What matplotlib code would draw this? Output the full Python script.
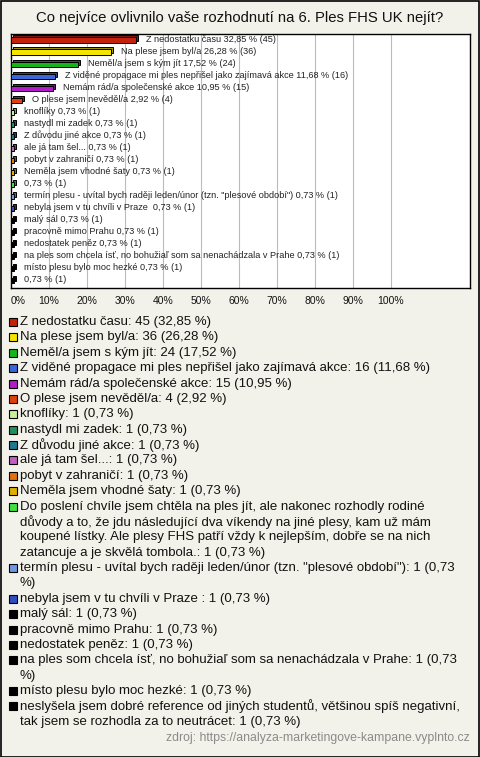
import matplotlib
matplotlib.use("Agg")
import matplotlib.pyplot as plt
from matplotlib.patches import Rectangle
import numpy as np

plt.rcParams['font.family'] = ['Liberation Sans', 'DejaVu Sans']

# Data
title = "Co nejvíce ovlivnilo vaše rozhodnutí na 6. Ples FHS UK nejít?"
answers = [
    "Z nedostatku času",
    "Na plese jsem byl/a",
    "Neměl/a jsem s kým jít",
    "Z viděné propagace mi ples nepřišel jako zajímavá akce",
    "Nemám rád/a společenské akce",
    "O plese jsem nevěděl/a",
    "knoflíky",
    "nastydl mi zadek",
    "Z důvodu jiné akce",
    "ale já tam šel...",
    "pobyt v zahraničí",
    "Neměla jsem vhodné šaty",
    "Do poslení chvíle jsem chtěla na ples jít, ale nakonec rozhodly rodiné důvody a to, že jdu "
    "následující dva víkendy na jiné plesy, kam už mám koupené lístky. Ale plesy FHS patří vždy "
    "k nejlepším, dobře se na nich zatancuje a je skvělá tombola.",
    "termín plesu - uvítal bych raději leden/únor (tzn. \"plesové období\")",
    "nebyla jsem v tu chvíli v Praze ",
    "malý sál",
    "pracovně mimo Prahu",
    "nedostatek peněz",
    "na ples som chcela ísť, no bohužiaľ som sa nenachádzala v Prahe",
    "místo plesu bylo moc hezké",
    "neslyšela jsem dobré reference od jiných studentů, většinou spíš negativní, "
    "tak jsem se rozhodla za to neutrácet",
]
counts = [45, 36, 24, 16, 15, 4, 1, 1, 1, 1, 1, 1, 1, 1, 1, 1, 1, 1, 1, 1, 1]
percents = [32.85, 26.28, 17.52, 11.68, 10.95, 2.92, 0.73, 0.73, 0.73, 0.73, 0.73,
            0.73, 0.73, 0.73, 0.73, 0.73, 0.73, 0.73, 0.73, 0.73, 0.73]
colors = ['#C4200E', '#F5E400', '#14B41A', '#3A66DA', '#B01CC8', '#E0400E',
          '#C8F098', '#1E9060', '#1E7890', '#C060C0', '#E07010', '#E0B000',
          '#40E040', '#7098E0', '#2E4EC0', '#000000', '#000000', '#000000',
          '#000000', '#000000', '#000000']
source = "zdroj: https://analyza-marketingove-kampane.vyplnto.cz"

W, H = 480, 757
bg = '#F3F2EA'

def fmt(v):
    return f"{v:.2f}".replace('.', ',')

fig = plt.figure(figsize=(W / 100, H / 100), dpi=100, facecolor=bg)

# plot area in pixels
x0, x1, y0, y1 = 11, 470, 34, 288
ax = fig.add_axes([x0 / W, 1 - y1 / H, (x1 - x0) / W, (y1 - y0) / H])
ax.set_facecolor('white')
ax.set_xlim(0, (x1 - x0) / 3.8)
ax.set_ylim(len(answers) - 0.35, -0.5)

ax.set_xticks(np.arange(0, 101, 10))
ax.set_xticklabels([f"{t}%" for t in range(0, 101, 10)], fontsize=7.5, color='#111')
ax.get_xticklabels()[0].set_ha('left')
ax.tick_params(axis='x', length=0, pad=6)
ax.set_yticks([])
ax.grid(axis='x', color='#BBBBBB', lw=0.8)
ax.set_axisbelow(True)
for s in ax.spines.values():
    s.set_color('black')
    s.set_linewidth(1.0)

y = np.arange(len(answers))
dx = 2 / 3.8
dy = 2 / 12.0
bh = 0.42

def darker(c, f=0.65):
    r, g, b = matplotlib.colors.to_rgb(c)
    return (r * f, g * f, b * f)

# 3d-ish bars: shifted back face, then front face
ax.barh(y - dy, percents, left=dx, height=bh, color=[darker(c) for c in colors],
        edgecolor='black', linewidth=0.7, zorder=2)
ax.barh(y, percents, height=bh, color=colors, edgecolor='black', linewidth=0.7, zorder=3)

for i, (a, p, c) in enumerate(zip(answers, percents, counts)):
    lab = a if len(a) < 100 else ""
    txt = f"{lab} {fmt(p)} % ({c})".strip()
    ax.text(p + 10 / 3.8, i - 0.05, txt, fontsize=6.6, color='#222',
            va='center', ha='left', zorder=4)

fig.text(0.5, 1 - 18 / H, title, ha='center', va='center', fontsize=10.7, color='#111')

# legend below, wrapped by measured width
fig.canvas.draw()
renderer = fig.canvas.get_renderer()
lfs = 9.5
def width_px(s):
    t = fig.text(0, 0, s, fontsize=lfs)
    w = t.get_window_extent(renderer).width
    t.remove()
    return w

max_w = 446
lines_y = 322
step = 15.38
for a, p, c, col in zip(answers, percents, counts, colors):
    full = f"{a}: {c} ({fmt(p)} %)"
    words = full.split(' ')
    lines = []
    cur = ''
    for w in words:
        cand = w if cur == '' else cur + ' ' + w
        if cur and width_px(cand) > max_w:
            lines.append(cur)
            cur = w
        else:
            cur = cand
    lines.append(cur)
    fig.patches.append(Rectangle((9 / W, 1 - (lines_y + 4) / H), 8 / W, 8 / H,
                                 transform=fig.transFigure, facecolor=col,
                                 edgecolor='black', linewidth=0.8))
    for ln in lines:
        fig.text(20 / W, 1 - lines_y / H, ln, fontsize=lfs, color='#111',
                 ha='left', va='center')
        lines_y += step

fig.text(470 / W, 1 - 738 / H, source, fontsize=8.8, color='#8A8A8A',
         ha='right', va='center')

fig.patches.append(Rectangle((0.5 / W, 0.5 / H), 1 - 1.5 / W, 1 - 1.5 / H,
                             transform=fig.transFigure, facecolor='none',
                             edgecolor='black', linewidth=1.2))

fig.savefig('out.png', dpi=100, facecolor=bg)
